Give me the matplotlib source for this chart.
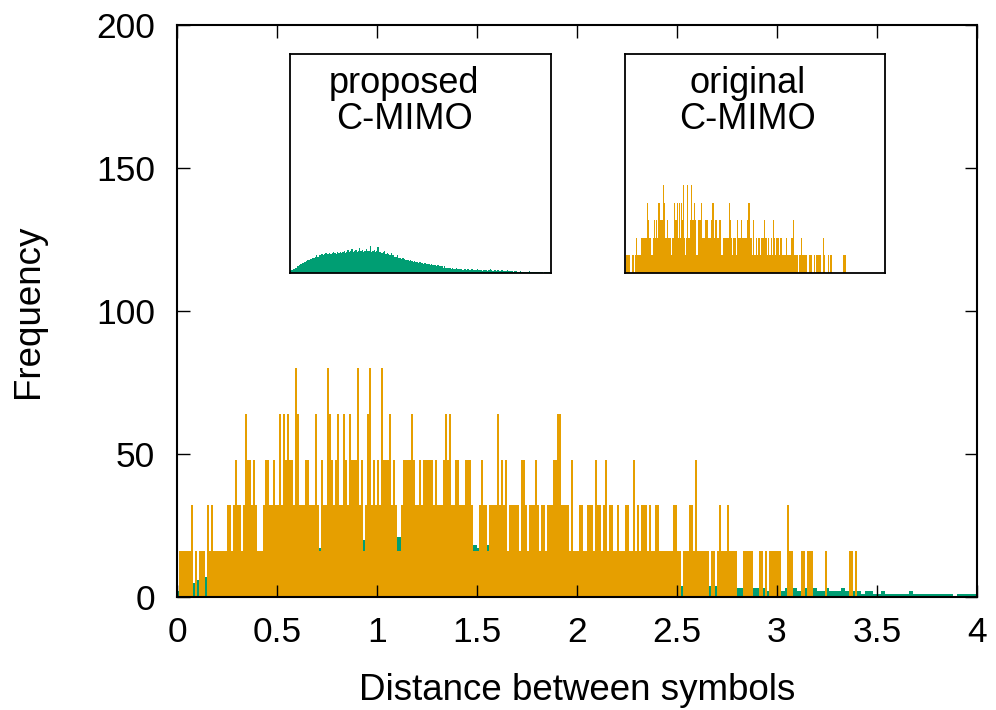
import matplotlib
matplotlib.use("Agg")
import matplotlib.pyplot as plt

plt.rcParams["font.family"] = ["Liberation Sans", "DejaVu Sans"]

# bins of 0.01 from 0 to 3.40; orange counts come in steps of 16 (level digit * 16)
bin_width_orange = 0.01
orange_levels = (
    "01111112010111021211"
    "11111221232212433232"
    "11123322322424343325"
    "42223322242132254323"
    "42243243335231245232"
    "32533342321123333432"
    "23233333232223434223"
    "32223332111232212222"
    "42323122222133212223"
    "21221222334422221311"
    "12211222132212312211"
    "21112211312122212112"
    "21111111221101112213"
    "11111101101211121111"
    "00011111000110101111"
    "11000211000011011100"
    "00001000000000001101"
)
orange_step = 16

# bins of 0.02 from 0 to 4.00
bin_width_green = 0.02
green_counts = [
    2, 3, 4, 4, 5, 6, 6, 7, 8, 9,
    9, 10, 11, 12, 12, 13, 13, 14, 14, 15,
    16, 15, 16, 16, 17, 16, 17, 18, 17, 17,
    18, 17, 18, 19, 18, 17, 19, 18, 19, 18,
    19, 20, 18, 19, 21, 19, 20, 22, 19, 20,
    21, 19, 20, 23, 20, 21, 19, 20, 22, 20,
    20, 25, 19, 20, 21, 19, 20, 24, 19, 19,
    18, 19, 20, 17, 18, 17, 16, 18, 16, 16,
    15, 15, 16, 14, 14, 13, 14, 13, 12, 12,
    12, 11, 12, 11, 10, 11, 10, 10, 9, 10,
    9, 9, 8, 9, 8, 8, 8, 7, 8, 7,
    7, 7, 6, 7, 6, 6, 6, 5, 6, 5,
    5, 5, 5, 4, 5, 4, 4, 5, 4, 4,
    4, 4, 3, 4, 4, 3, 4, 3, 3, 4,
    3, 3, 3, 4, 3, 3, 3, 2, 3, 3,
    3, 2, 3, 4, 3, 2, 3, 3, 2, 3,
    2, 2, 3, 2, 2, 2, 3, 2, 2, 2,
    2, 1, 2, 2, 1, 1, 2, 1, 1, 1,
    1, 1, 1, 2, 1, 1, 1, 1, 1, 1,
    1, 1, 1, 1, 0, 1, 1, 1, 1, 1,
]

x_ticks = [0, 0.5, 1, 1.5, 2, 2.5, 3, 3.5, 4]
x_tick_labels = ["0", "0.5", "1", "1.5", "2", "2.5", "3", "3.5", "4"]
y_ticks = [0, 50, 100, 150, 200]

GREEN = "#009e73"
ORANGE = "#e69f00"

orange_counts = [orange_step * int(c) for c in orange_levels]
orange_x = [i * bin_width_orange for i in range(len(orange_counts))]
green_x = [i * bin_width_green for i in range(len(green_counts))]


def draw_green(ax):
    ax.bar(green_x, green_counts, width=bin_width_green, align="edge",
           color=GREEN, linewidth=0)


def draw_orange(ax):
    ax.bar(orange_x, orange_counts, width=bin_width_orange, align="edge",
           color=ORANGE, linewidth=0)


fig = plt.figure(figsize=(9.96, 7.10), dpi=100)

ax = fig.add_axes([0.1777, 0.1592, 0.8032, 0.8056])
draw_green(ax)
draw_orange(ax)
ax.set_xlim(0, 4)
ax.set_ylim(0, 200)
ax.set_xticks(x_ticks)
ax.set_xticklabels(x_tick_labels)
ax.set_yticks(y_ticks)
ax.tick_params(direction="in", length=9, width=1, top=True, right=True,
               labelsize=25.5, pad=14)
ax.tick_params(axis="y", pad=16)
for s in ax.spines.values():
    s.set_linewidth(1.5)
    s.set_zorder(5)
ax.set_xlabel("Distance between symbols", fontsize=26.5, labelpad=17)
ax.set_ylabel("Frequency", fontsize=26.5, labelpad=36)

# insets: same data, one series each
insets = [
    ([0.2912, 0.6155, 0.2620, 0.3085], draw_green, "proposed\nC-MIMO", 0.437),
    ([0.6275, 0.6155, 0.2610, 0.3085], draw_orange, "original\nC-MIMO", 0.473),
]
for rect, draw, label, tx in insets:
    ins = fig.add_axes(rect)
    draw(ins)
    ins.set_xlim(0, 4)
    ins.set_ylim(0, 200)
    ins.set_xticks([])
    ins.set_yticks([])
    for s in ins.spines.values():
        s.set_linewidth(1.3)
    ins.text(tx, 0.943, label, transform=ins.transAxes, ha="center", va="top",
             fontsize=26, linespacing=1.01)

fig.savefig("out.png", dpi=100)
